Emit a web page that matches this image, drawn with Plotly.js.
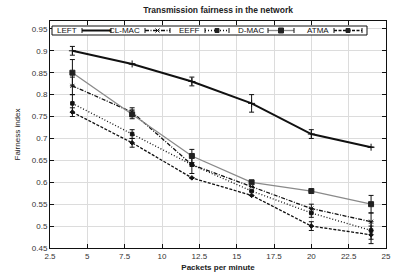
<!DOCTYPE html>
<html><head><meta charset="utf-8">
<script src="https://cdn.plot.ly/plotly-3.0.1.min.js"></script>
<style>html,body{margin:0;padding:0;background:#fff}</style>
</head><body>
<div id="chart" style="width:398px;height:277px"></div>
<script>
var packets = [4, 8, 12, 16, 20, 24];
var seriesNames = ["LEFT", "CL-MAC", "EEFF", "D-MAC", "ATMA"];
var leftVals  = [0.90, 0.87, 0.83, 0.78, 0.71, 0.68];
var clmacVals = [0.82, 0.76, 0.64, 0.59, 0.54, 0.51];
var eeffVals  = [0.78, 0.71, 0.64, 0.58, 0.53, 0.49];
var dmacVals  = [0.85, 0.755, 0.66, 0.60, 0.58, 0.55];
var atmaVals  = [0.76, 0.69, 0.61, 0.57, 0.50, 0.48];
var leftErr  = [0.01, 0, 0.01, 0.02, 0.01, 0];
var clmacErr = [0.02, 0.01, 0.02, 0, 0.01, 0.02];
var eeffErr  = [0.02, 0.01, 0, 0, 0.01, 0.02];
var dmacErr  = [0.03, 0.01, 0.015, 0, 0, 0.02];
var atmaErr  = [0.01, 0.01, 0, 0, 0.01, 0.02];
var xTicks = [2.5, 5, 7.5, 10, 12.5, 15, 17.5, 20, 22.5, 25];
var yTicks = [0.45, 0.5, 0.55, 0.6, 0.65, 0.7, 0.75, 0.8, 0.85, 0.9, 0.95];

var vals = [leftVals, clmacVals, eeffVals, dmacVals, atmaVals];
var errs = [leftErr, clmacErr, eeffErr, dmacErr, atmaErr];
var styles = [
  {color:"#111", width:2, dash:"solid", sym:"cross-thin-open", ms:5, shape:"none"},
  {color:"#111", width:1.3, dash:"4px,1.5px,1px,1.5px", sym:"x-thin-open", ms:4, shape:"x"},
  {color:"#111", width:1.3, dash:"1px,2px", sym:"square", ms:3.5, shape:"sq"},
  {color:"#8a8a8a", width:1.3, dash:"solid", sym:"square", ms:5, shape:"sqbig"},
  {color:"#111", width:1.3, dash:"3px,1.5px", sym:"diamond", ms:3.5, shape:"sq"}
];
var traces = seriesNames.map(function(n, i){
  var s = styles[i];
  return {
    x: packets, y: vals[i], name: n, type: "scatter", mode: "lines+markers",
    line: {color: s.color, width: s.width, dash: s.dash},
    marker: {symbol: s.sym, size: s.ms, color: i===3 ? "#222" : s.color, line:{color: i===3 ? "#222" : s.color, width:1}},
    error_y: {type:"data", array: errs[i], visible:true, color:"#111", thickness:1, width:2.5},
    showlegend:false
  };
});

// custom gnuplot-style legend (pixel positions inside the plot area)
var plotL = 50, plotW = 336, plotT = 21, plotH = 227;
function px(X){ return (X - plotL) / plotW; }
function py(Y){ return 1 - (Y - plotT) / plotH; }
var legTextEnd = [79, 142, 202, 266, 331];
var legSampleStart = [82, 145, 205, 268, 334];
var legSampleEnd = [111, 170, 229, 294, 362];
var legY = 30.5;
var shapes = [{type:"rect", xref:"paper", yref:"paper", x0:px(52), x1:px(367), y0:py(35), y1:py(26),
  line:{color:"#111", width:1}, fillcolor:"#fff", layer:"above"}];
var annotations = [];
seriesNames.forEach(function(n, i){
  var s = styles[i];
  annotations.push({xref:"paper", yref:"paper", x:px(legTextEnd[i]), y:py(legY), xanchor:"right", yanchor:"middle",
    text:n, showarrow:false, font:{family:"Liberation Sans, Arial, sans-serif", size:8, color:"#111"}});
  var x0 = px(legSampleStart[i]), x1 = px(legSampleEnd[i]), ym = py(legY);
  shapes.push({type:"line", xref:"paper", yref:"paper", x0:x0, x1:x1, y0:ym, y1:ym,
    line:{color:s.color, width:s.width, dash:s.dash}, layer:"above"});
  [x0, x1].forEach(function(xe){
    shapes.push({type:"line", xref:"paper", yref:"paper", xsizemode:"pixel", ysizemode:"pixel", xanchor:xe, yanchor:ym,
      x0:0, x1:0, y0:-2.5, y1:2.5, line:{color:"#111", width:1}, layer:"above"});
  });
  var xm = (x0 + x1) / 2;
  if (s.shape === "x") {
    shapes.push({type:"line", xref:"paper", yref:"paper", xsizemode:"pixel", ysizemode:"pixel", xanchor:xm, yanchor:ym,
      x0:-2, x1:2, y0:-2, y1:2, line:{color:"#111", width:1}, layer:"above"});
    shapes.push({type:"line", xref:"paper", yref:"paper", xsizemode:"pixel", ysizemode:"pixel", xanchor:xm, yanchor:ym,
      x0:-2, x1:2, y0:2, y1:-2, line:{color:"#111", width:1}, layer:"above"});
  } else if (s.shape === "sq" || s.shape === "sqbig") {
    var h = s.shape === "sqbig" ? 2.5 : 2;
    shapes.push({type:"rect", xref:"paper", yref:"paper", xsizemode:"pixel", ysizemode:"pixel", xanchor:xm, yanchor:ym,
      x0:-h, x1:h, y0:-h, y1:h, line:{color:"#222", width:1}, fillcolor:"#222", layer:"above"});
  }
});

var axFont = {family:"Liberation Sans, Arial, sans-serif", size:8, color:"#333"};
var layout = {
  width:398, height:277,
  margin:{l:plotL, r:398 - plotL - plotW, t:plotT, b:277 - plotT - plotH},
  paper_bgcolor:"#fff", plot_bgcolor:"#fff",
  showlegend:false,
  title:{text:"<b>Transmission fairness in the network</b>", font:{family:"Liberation Sans, Arial, sans-serif", size:8.5, color:"#222"}, x:0.548, xanchor:"center", y:0.975, yanchor:"top"},
  xaxis:{range:[2.5,25], tickvals:xTicks, ticktext:xTicks.map(String), tickfont:axFont,
    showgrid:true, gridcolor:"#dcdcdc", gridwidth:1, zeroline:false,
    showline:true, linecolor:"#111", linewidth:1, mirror:"ticks", ticks:"inside", ticklen:4, tickcolor:"#111",
    title:{text:"<b>Packets per minute</b>", font:{family:"Liberation Sans, Arial, sans-serif", size:8, color:"#222"}, standoff:4}},
  yaxis:{range:[0.45,0.968], tickvals:yTicks, ticktext:yTicks.map(String), tickfont:axFont,
    showgrid:true, gridcolor:"#dcdcdc", gridwidth:1, zeroline:false,
    showline:true, linecolor:"#111", linewidth:1, mirror:"ticks", ticks:"inside", ticklen:4, tickcolor:"#111",
    title:{text:"Fairness index", font:{family:"Liberation Sans, Arial, sans-serif", size:8, color:"#222"}, standoff:10}},
  shapes:shapes,
  annotations:annotations
};
Plotly.newPlot("chart", traces, layout, {displayModeBar:false, staticPlot:true});
</script>
</body></html>
